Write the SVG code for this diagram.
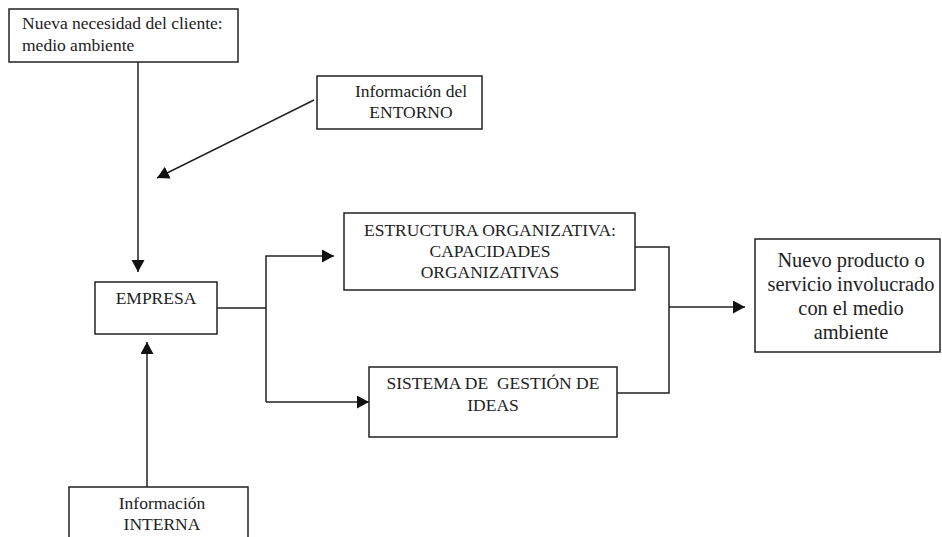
<svg xmlns="http://www.w3.org/2000/svg" width="942" height="537" viewBox="0 0 942 537">
<style>
  .box { fill: #fff; stroke: #222; stroke-width: 1.5; }
  .t { font-family: "Liberation Serif", "Times New Roman", serif; font-size: 17.5px; fill: #222; }
  .tc { text-anchor: middle; }
  .big { font-size: 20.4px; }
  .ln { fill: none; stroke: #222; stroke-width: 1.5; }
</style>
<defs>
  <marker id="arr" markerUnits="userSpaceOnUse" markerWidth="14" markerHeight="14" refX="12" refY="6.5" orient="auto">
    <path d="M0,0 L12,6.5 L0,13 Z" fill="#111"/>
  </marker>
</defs>
<rect width="942" height="537" fill="#fff"/>

<g id="connectors">
  <line class="ln" x1="138" y1="62" x2="138" y2="272" marker-end="url(#arr)"/>
  <line class="ln" x1="314" y1="100" x2="157" y2="178" marker-end="url(#arr)"/>
  <line class="ln" x1="147" y1="487" x2="147" y2="342" marker-end="url(#arr)"/>
  <polyline class="ln" points="217,308 266,308"/>
  <polyline class="ln" points="266,402 266,256 334,256" marker-end="url(#arr)"/>
  <line class="ln" x1="266" y1="402" x2="369" y2="402" marker-end="url(#arr)"/>
  <polyline class="ln" points="635,247 669,247 669,393 617,393"/>
  <line class="ln" x1="669" y1="307" x2="745" y2="307" marker-end="url(#arr)"/>
</g>

<g id="nueva-necesidad">
  <rect class="box" x="9" y="9" width="229" height="53"/>
  <text class="t" x="22" y="29">Nueva necesidad del cliente:</text>
  <text class="t" x="22" y="51">medio ambiente</text>
</g>

<g id="info-entorno">
  <rect class="box" x="317" y="76" width="165" height="53"/>
  <text class="t tc" x="411" y="97">Información del</text>
  <text class="t tc" x="411" y="118">ENTORNO</text>
</g>

<g id="empresa">
  <rect class="box" x="95" y="282" width="122" height="52"/>
  <text class="t tc" x="156" y="304">EMPRESA</text>
</g>

<g id="estructura">
  <rect class="box" x="344" y="213" width="291" height="77"/>
  <text class="t tc" x="490" y="236">ESTRUCTURA ORGANIZATIVA:</text>
  <text class="t tc" x="490" y="257">CAPACIDADES</text>
  <text class="t tc" x="490" y="278">ORGANIZATIVAS</text>
</g>

<g id="sistema">
  <rect class="box" x="369" y="367" width="248" height="70"/>
  <text class="t tc" x="493" y="389" xml:space="preserve">SISTEMA DE  GESTIÓN DE</text>
  <text class="t tc" x="493" y="411">IDEAS</text>
</g>

<g id="nuevo-producto">
  <rect class="box" x="755" y="239" width="185" height="113"/>
  <text class="t tc big" x="851" y="267">Nuevo producto o</text>
  <text class="t tc big" x="851" y="291">servicio involucrado</text>
  <text class="t tc big" x="851" y="315">con el medio</text>
  <text class="t tc big" x="851" y="339">ambiente</text>
</g>

<g id="info-interna">
  <rect class="box" x="69" y="487" width="179" height="60"/>
  <text class="t tc" x="162" y="509">Información</text>
  <text class="t tc" x="162" y="530">INTERNA</text>
</g>
</svg>
